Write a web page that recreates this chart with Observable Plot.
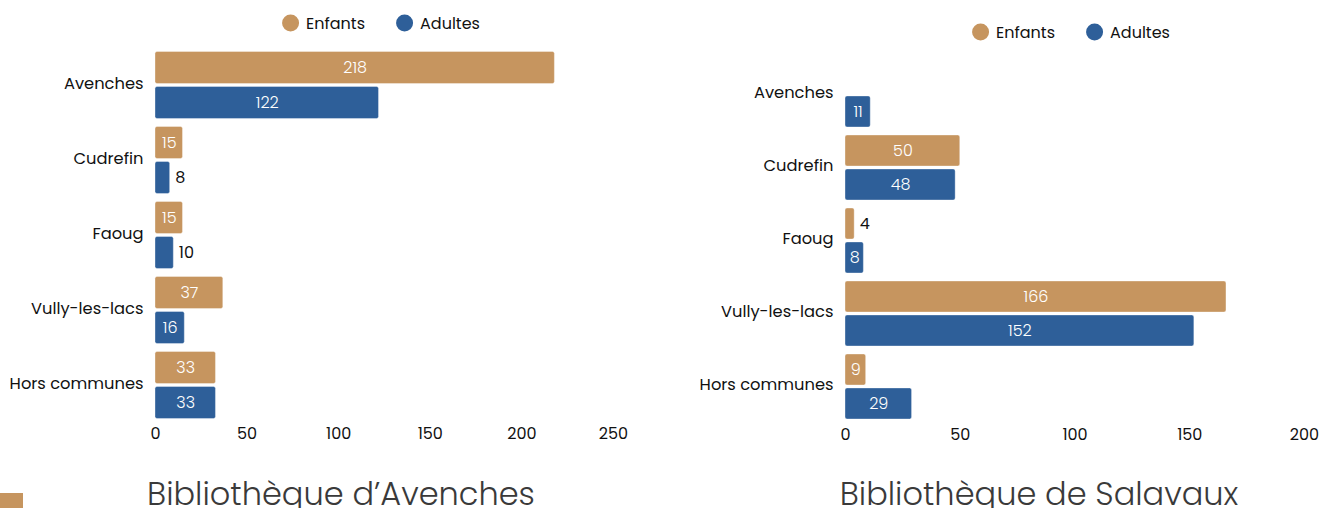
<!DOCTYPE html>
<html>
<head>
<meta charset="utf-8">
<script src="https://cdn.jsdelivr.net/npm/d3@7"></script>
<script src="https://cdn.jsdelivr.net/npm/@observablehq/plot@0.6"></script>
<style>
  html, body { margin: 0; padding: 0; background: #fff; }
  body { width: 1320px; height: 508px; overflow: hidden; position: relative; font-family: Poppins, Inter, "Open Sans", sans-serif; color: #111; }
  .chart { position: absolute; top: 0; }
  .legend { position: absolute; display: flex; align-items: center; gap: 31px; font-size: 16px; transform: translate(-50%, -50%); white-space: nowrap; }
  .legend .item { display: flex; align-items: center; gap: 7px; }
  .legend .sw { width: 17px; height: 17px; border-radius: 50%; display: inline-block; }
  .title { position: absolute; transform: translateX(-50%); font-size: 32px; color: #3a3a3a; white-space: nowrap; font-weight: 300; line-height: 1; }
  .square { position: absolute; left: 0; top: 493px; width: 23px; height: 15px; background: #C6955F; }
</style>
</head>
<body>
<div id="root"></div>
<script>
const communes = ["Avenches", "Cudrefin", "Faoug", "Vully-les-lacs", "Hors communes"];
const series = ["Enfants", "Adultes"];
const colors = ["#C6955F", "#2E5F99"];
const avenchesEnfants = [218, 15, 15, 37, 33];
const avenchesAdultes = [122, 8, 10, 16, 33];
const salavauxEnfants = [0, 50, 4, 166, 9];
const salavauxAdultes = [11, 48, 8, 152, 29];
const avenchesTicks = [0, 50, 100, 150, 200, 250];
const salavauxTicks = [0, 50, 100, 150, 200];
const titles = ["Bibliothèque d\u2019Avenches", "Bibliothèque de Salavaux"];

const FONT = 'Poppins, Inter, "Open Sans", sans-serif';

function makeData(enf, adu) {
  const rows = [];
  communes.forEach((c, i) => {
    rows.push({commune: c, serie: "Enfants", value: enf[i]});
    rows.push({commune: c, serie: "Adultes", value: adu[i]});
  });
  return rows.filter(d => d.value > 0);
}

function chart(cfg) {
  const data = makeData(cfg.enf, cfg.adu);
  const xmax = cfg.ticks[cfg.ticks.length - 1];
  const pxPerUnit = (cfg.width - cfg.marginLeft - cfg.marginRight) / xmax;
  const fits = d => String(d.value).length * 7.5 + 8 < d.value * pxPerUnit;
  const inside = data.filter(fits);
  const outside = data.filter(d => !fits(d));
  const stepRatioIn = cfg.gap / cfg.step;
  return Plot.plot({
    width: cfg.width,
    height: cfg.height,
    marginLeft: cfg.marginLeft,
    marginRight: cfg.marginRight,
    marginTop: cfg.marginTop,
    marginBottom: cfg.marginBottom,
    style: {fontFamily: FONT, fontSize: "16px", color: "#111", background: "transparent"},
    x: {domain: [0, xmax], ticks: cfg.ticks, tickSize: 0, tickPadding: 9, label: null, nice: false},
    fy: {domain: communes, paddingInner: stepRatioIn, paddingOuter: stepRatioIn / 2, round: false, axis: null},
    y: {domain: series, paddingInner: 3 / 35, paddingOuter: 0, round: false, axis: null},
    color: {domain: series, range: colors},
    marks: [
      Plot.axisFy({tickSize: 0, tickPadding: 12, label: null, anchor: "left", fontSize: 16.3, dy: -2}),
      Plot.barX(data, {x: "value", y: "serie", fy: "commune", fill: "serie", rx: 2, stroke: "white", strokeOpacity: 0.35, strokeWidth: 1}),
      Plot.text(inside, {x: d => d.value / 2, y: "serie", fy: "commune", text: d => String(d.value), fill: "white", fontSize: 16, fontWeight: 300}),
      Plot.text(outside, {x: "value", y: "serie", fy: "commune", text: d => String(d.value), fill: "#111", textAnchor: "start", dx: 5, fontSize: 16})
    ]
  });
}

const root = document.getElementById("root");
const cfgs = [
  {enf: avenchesEnfants, adu: avenchesAdultes, ticks: avenchesTicks, left: 0, width: 660, height: 450, marginLeft: 155, marginRight: 47, marginTop: 47.5, marginBottom: 27.5, step: 75, gap: 8, legendX: 381, legendY: 23, titleX: 341},
  {enf: salavauxEnfants, adu: salavauxAdultes, ticks: salavauxTicks, left: 690, width: 630, height: 450, marginLeft: 155, marginRight: 16, marginTop: 58, marginBottom: 27, step: 73, gap: 8, legendX: 1071, legendY: 32, titleX: 1039}
];
cfgs.forEach((cfg, k) => {
  const wrap = document.createElement("div");
  wrap.className = "chart";
  wrap.style.left = cfg.left + "px";
  wrap.appendChild(chart(cfg));
  root.appendChild(wrap);

  const lg = document.createElement("div");
  lg.className = "legend";
  lg.style.left = cfg.legendX + "px";
  lg.style.top = cfg.legendY + "px";
  series.forEach((s, i) => {
    const it = document.createElement("span");
    it.className = "item";
    const sw = document.createElement("span");
    sw.className = "sw";
    sw.style.background = colors[i];
    const tx = document.createElement("span");
    tx.textContent = s;
    it.appendChild(sw); it.appendChild(tx);
    lg.appendChild(it);
  });
  root.appendChild(lg);

  const t = document.createElement("div");
  t.className = "title";
  t.style.left = cfg.titleX + "px";
  t.style.top = "478px";
  t.textContent = titles[k];
  root.appendChild(t);
});
const sq = document.createElement("div");
sq.className = "square";
root.appendChild(sq);
</script>
</body>
</html>
